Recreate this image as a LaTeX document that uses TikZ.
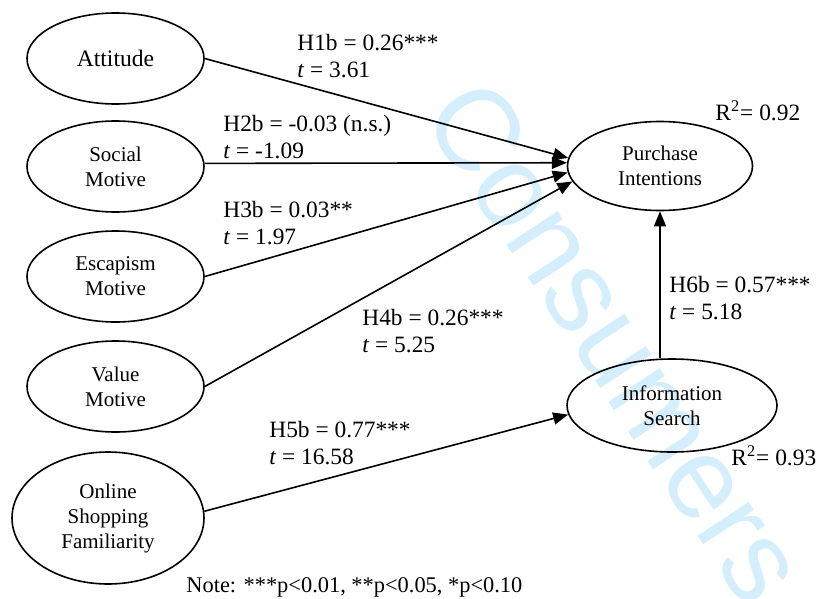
\documentclass[tikz,border=0pt]{standalone}
\usepackage{fontspec}
\setmainfont{Liberation Serif}
\newfontfamily\wmfont{Liberation Sans}
\usepackage{xcolor}
\usepackage{tikz}
\usetikzlibrary{shapes,arrows.meta,positioning,calc}
\definecolor{wmcyan}{RGB}{212,239,251}

\begin{document}
\begin{tikzpicture}[x=0.5pt, y=-0.5pt,
    construct/.style={draw, ellipse, line width=0.8pt, inner sep=0pt,
        minimum width=88.5pt, minimum height=45.5pt, align=center,
        font=\fontsize{10.5}{12.5}\selectfont},
    link/.style={line width=0.8pt, -{Triangle[length=7.5pt,width=6pt]}},
    est/.style={anchor=west, align=left, inner sep=0pt,
        font=\fontsize{11.7}{13.5}\selectfont}]
    \useasboundingbox (0,0) rectangle (824,599);
    % watermark behind everything
    \node[rotate=-56.7, text=wmcyan, inner sep=0pt,
        font=\fontsize{58}{58}\selectfont\wmfont] (wm) at (617,341) {Consumers};

    % exogenous constructs
    \node[construct, font=\fontsize{11.8}{13}\selectfont] (att) at (115.5,58.5) {Attitude};
    \node[construct] (soc) at (115.5,166.5) {Social\\Motive};
    \node[construct] (esc) at (115.5,276.5) {Escapism\\Motive};
    \node[construct] (val) at (115.5,386.5) {Value\\Motive};
    \node[construct, minimum width=96pt, minimum height=66pt] (osf) at (108,518) {Online\\Shopping\\Familiarity};

    % endogenous constructs
    \node[construct, minimum width=92.5pt, minimum height=44.5pt] (pi) at (660,166) {Purchase\\Intentions};
    \node[construct, minimum width=105pt, minimum height=46.5pt] (is) at (672,405.5) {Information\\Search};

    % paths
    \draw[link] (att.east) -- (pi.175);
    \draw[link] (soc.2) -- (pi.178);
    \draw[link] (esc.east) -- (pi.184);
    \draw[link] (val.east) -- (pi.190);
    \draw[link] (osf.4) -- (is.185);
    \draw[link] (pi.south |- is.north) -- (pi.south);

    % estimates
    \node[est] (h1) at (297,56) {H1b = 0.26***\\\textit{t} = 3.61};
    \node[est] (h2) at (223,137.5) {H2b = -0.03 (n.s.)\\\textit{t} = -1.09};
    \node[est] (h3) at (223,223.5) {H3b = 0.03**\\\textit{t} = 1.97};
    \node[est] (h4) at (362,331) {H4b = 0.26***\\\textit{t} = 5.25};
    \node[est] (h5) at (269,443) {H5b = 0.77***\\\textit{t} = 16.58};
    \node[est] (h6) at (669,298.5) {H6b = 0.57***\\\textit{t} = 5.18};

    \node[est, anchor=base west] (r1) at (715,120) {R\textsuperscript{2}= 0.92};
    \node[est, anchor=base west] (r2) at (731,465) {R\textsuperscript{2}= 0.93};
    \node[est, anchor=base west, font=\fontsize{11.2}{13}\selectfont] (note) at (186,592) {Note: ***p<0.01, **p<0.05, *p<0.10};
\end{tikzpicture}
\end{document}
